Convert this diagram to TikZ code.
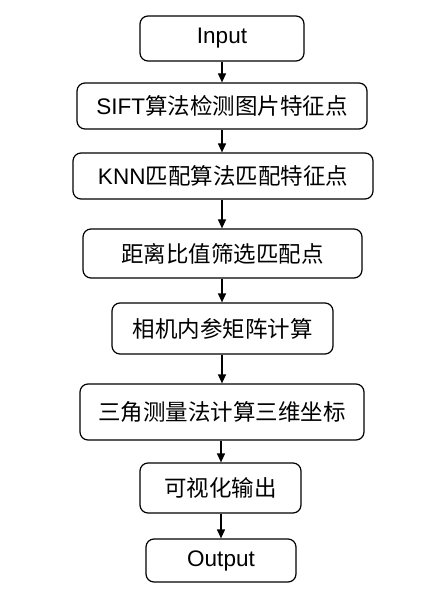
\documentclass[tikz,border=0pt]{standalone}
\usepackage{fontspec}
\setmainfont{Liberation Sans}
\newfontfamily\cjk{Noto Sans CJK SC}
\usetikzlibrary{arrows.meta,positioning}
\tikzset{
  stepnode/.style={
    draw, rounded corners=8pt, line width=1.2pt, align=center,
    font=\fontsize{22.5}{26}\selectfont, inner sep=0pt
  },
  flow/.style={-{Triangle[length=9pt,width=8pt]}, line width=1.2pt}
}
\begin{document}
\begin{tikzpicture}[x=1pt, y=-1pt]
  \useasboundingbox (0,0) rectangle (435,601);
  \node[stepnode, minimum width=164pt, minimum height=45pt] (in) at (222,38.5) {Input};
  \node[stepnode, minimum width=290pt, minimum height=46pt] (sift) at (222,106) {SIFT{\cjk 算法检测图片特征点}};
  \node[stepnode, minimum width=300pt, minimum height=46pt] (knn) at (223,176) {KNN{\cjk 匹配算法匹配特征点}};
  \node[stepnode, minimum width=279pt, minimum height=49pt] (ratio) at (222.5,253.5) {\cjk 距离比值筛选匹配点};
  \node[stepnode, minimum width=221pt, minimum height=51pt] (cam) at (222.5,328.5) {\cjk 相机内参矩阵计算};
  \node[stepnode, minimum width=284pt, minimum height=56pt] (tri) at (222,412) {\cjk 三角测量法计算三维坐标};
  \node[stepnode, minimum width=161pt, minimum height=50pt] (vis) at (220.5,488) {\cjk 可视化输出};
  \node[stepnode, minimum width=150pt, minimum height=43pt] (out) at (221,560.5) {Output};
  % connectors
  \draw[flow] (in.south -| 222,0) -- (sift.north -| 222,0);
  \draw[flow] (sift.south -| 222,0) -- (knn.north -| 222,0);
  \draw[flow] (knn.south -| 222,0) -- (ratio.north -| 222,0);
  \draw[flow] (ratio.south -| 222,0) -- (cam.north -| 222,0);
  \draw[flow] (cam.south -| 222,0) -- (tri.north -| 222,0);
  \draw[flow] (tri.south -| 221,0) -- (vis.north -| 221,0);
  \draw[flow] (vis.south -| 221,0) -- (out.north -| 221,0);
\end{tikzpicture}
\end{document}
